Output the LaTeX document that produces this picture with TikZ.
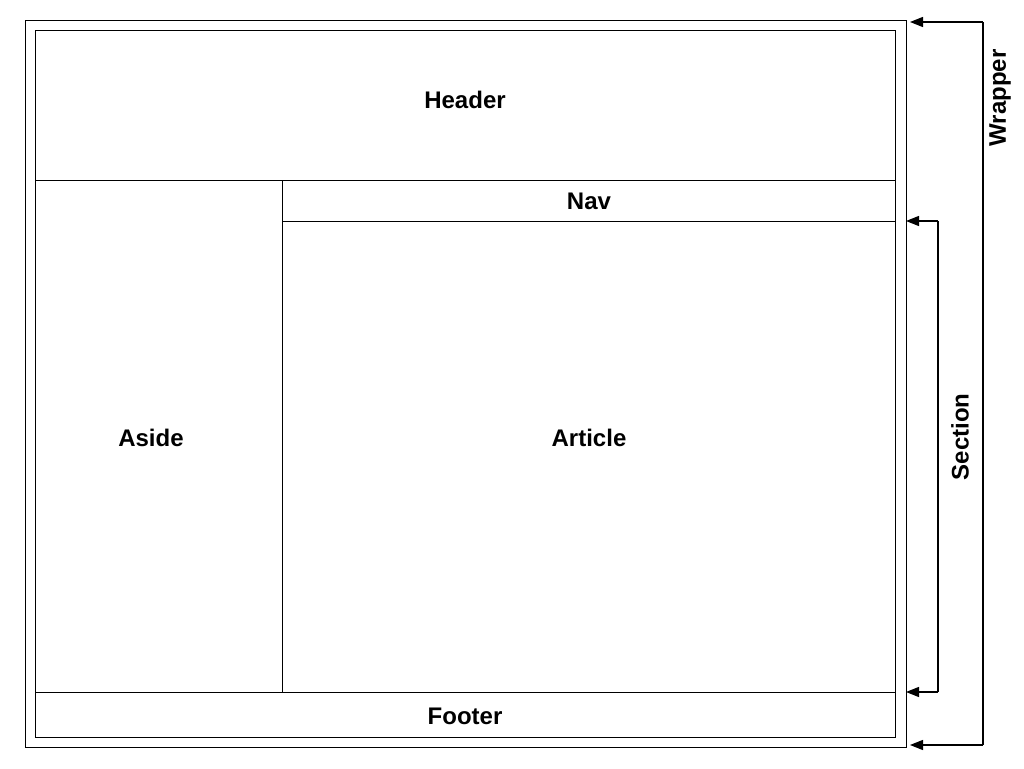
\documentclass[tikz,border=0pt]{standalone}
\usepackage{fontspec}
\setmainfont{Liberation Sans}
\usetikzlibrary{arrows.meta}
\begin{document}
\begin{tikzpicture}[x=1pt,y=-1pt,
  box/.style={draw=black, line width=1pt, anchor=north west, inner sep=0pt, outer sep=0pt},
  lbl/.style={font=\fontsize{24}{27}\selectfont\bfseries, inner sep=0pt, anchor=base},
  vlbl/.style={font=\fontsize{24}{27}\selectfont\bfseries, inner sep=0pt, rotate=90},
  arr/.style={line width=1.3pt, -{Triangle[length=13pt,width=10pt]}}]
\useasboundingbox[fill=white] (0,0) rectangle (1024,768);
% outer wrapper
\node[box, minimum width=881pt, minimum height=726pt] (wrap) at (25,21) {};
\node[box, minimum width=860pt, minimum height=706pt] (inner) at (35,31) {};
% sections
\node[box, minimum width=860pt, minimum height=149pt] (header) at (35,31) {};
\node[box, minimum width=247pt, minimum height=512pt] (aside) at (35,180) {};
\node[box, minimum width=613pt, minimum height=41pt] (nav) at (282,180) {};
\node[box, minimum width=613pt, minimum height=471pt] (article) at (282,221) {};
\node[box, minimum width=860pt, minimum height=45pt] (footer) at (35,692) {};
% labels
\node[lbl] (headerlbl) at (465,108) {Header};
\node[lbl] (navlbl) at (589,209) {Nav};
\node[lbl] (asidelbl) at (151,446) {Aside};
\node[lbl] (articlelbl) at (589,446) {Article};
\node[lbl] (footerlbl) at (465,724) {Footer};
% wrapper arrows
\coordinate (wt) at (983,22);
\coordinate (wb) at (983,745);
\coordinate (wtt) at (910,22);
\coordinate (wbt) at (910,745);
\draw[line width=1.3pt] (wb) -- (wt);
\draw[arr] (wt) -- (wtt);
\draw[arr] (wb) -- (wbt);
\node[vlbl] (wraplbl) at (1000,98) {Wrapper};
% section arrows
\coordinate (st) at (938,221);
\coordinate (sb) at (938,692);
\coordinate (stt) at (906,221);
\coordinate (sbt) at (906,692);
\draw[line width=1.3pt] (sb) -- (st);
\draw[arr] (st) -- (stt);
\draw[arr] (sb) -- (sbt);
\node[vlbl] (seclbl) at (960,437) {Section};
\end{tikzpicture}
\end{document}
